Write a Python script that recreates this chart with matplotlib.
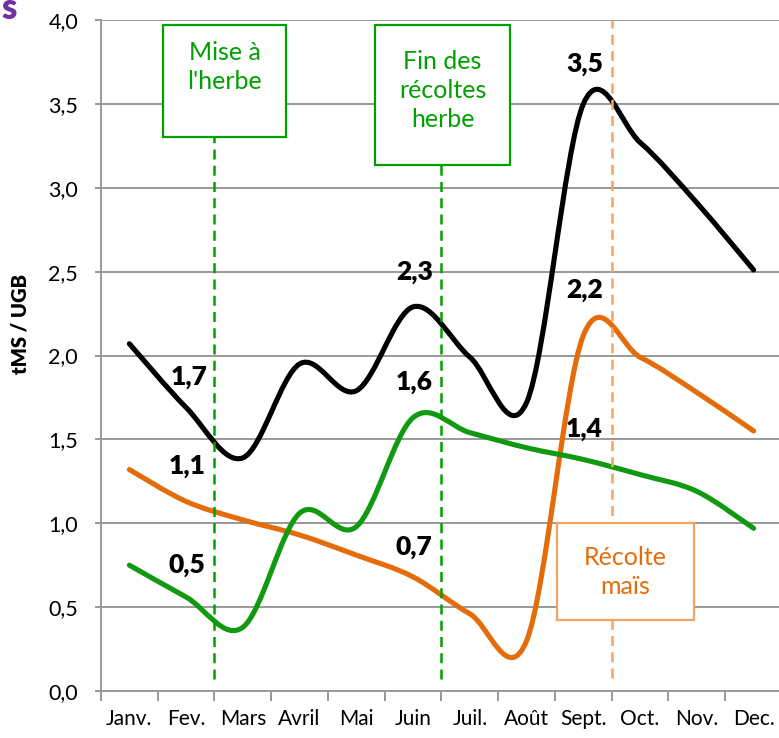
import matplotlib
matplotlib.use("Agg")
import matplotlib.pyplot as plt
from matplotlib.path import Path
from matplotlib.patches import PathPatch, Rectangle

plt.rcParams['font.family'] = ['Lato', 'DejaVu Sans']

mois = ['Janv.', 'Fev.', 'Mars', 'Avril', 'Mai', 'Juin', 'Juil.', 'Août',
        'Sept.', 'Oct.', 'Nov.', 'Dec.']
total = [2.07, 1.69, 1.39, 1.95, 1.79, 2.29, 1.99, 1.72, 3.50, 3.27, 2.91, 2.51]
herbe = [0.75, 0.56, 0.38, 1.06, 0.98, 1.63, 1.54, 1.45, 1.38, 1.29, 1.19, 0.97]
mais = [1.32, 1.13, 1.02, 0.93, 0.81, 0.68, 0.46, 0.30, 2.12, 1.99, 1.78, 1.55]
y_ticks = [0.0, 0.5, 1.0, 1.5, 2.0, 2.5, 3.0, 3.5, 4.0]
etiquettes = ['1,7', '1,1', '0,5', '2,3', '1,6', '0,7', '3,5', '2,2', '1,4']

noir = '#000000'
vert = '#119911'
orange = '#E46C0A'
orange_clair = '#F4A460'


def courbe_lisse(xs, ys):
    # bezier a la maniere d'Excel (lissage)
    n = len(xs)
    verts = [(xs[0], ys[0])]
    codes = [Path.MOVETO]
    for i in range(n - 1):
        a = i - 1 if i > 0 else i
        d = i + 2 if i + 2 < n else i + 1
        c1 = (xs[i] + (xs[i + 1] - xs[a]) / 6, ys[i] + (ys[i + 1] - ys[a]) / 6)
        c2 = (xs[i + 1] - (xs[d] - xs[i]) / 6, ys[i + 1] - (ys[d] - ys[i]) / 6)
        verts += [c1, c2, (xs[i + 1], ys[i + 1])]
        codes += [Path.CURVE4] * 3
    return Path(verts, codes)


fig = plt.figure(figsize=(7.79, 7.38), dpi=100)
ax = fig.add_axes([101 / 779, 1 - 691 / 738, 681 / 779, 671 / 738])

x = list(range(len(mois)))
ax.set_xlim(-0.5, 11.5)
ax.set_ylim(0, 4)

for serie, col in [(mais, orange), (herbe, vert), (total, noir)]:
    ax.add_patch(PathPatch(courbe_lisse(x, serie), fill=False, edgecolor=col,
                           lw=3.7, capstyle='round', joinstyle='round', zorder=4))

# axes
ax.set_yticks(y_ticks)
ax.set_yticklabels([f'{v:.1f}'.replace('.', ',') for v in y_ticks])
ax.yaxis.grid(True, color='#999999', lw=1.4)
ax.set_axisbelow(True)
ax.set_xticks(x)
ax.set_xticklabels(mois)
ax.set_xticks([i - 0.5 for i in range(13)], minor=True)
ax.tick_params(axis='x', which='major', length=0, pad=13, labelsize=15)
ax.tick_params(axis='x', which='minor', length=7, width=1.4, color='#999999')
ax.tick_params(axis='y', length=4.5, width=1.4, color='#999999', pad=12, labelsize=15.5)
for s in ['top', 'right']:
    ax.spines[s].set_visible(False)
for s in ['left', 'bottom']:
    ax.spines[s].set_color('#999999')
    ax.spines[s].set_linewidth(1.4)
fig.text(20 / 779, 1 - 324 / 738, 'tMS / UGB', fontsize=14.5, fontweight='heavy',
         rotation=90, ha='center', va='center')

# lignes verticales
ax.plot([1.5, 1.5], [0.07, 3.30], color='#00A000', lw=1.8, ls=(0, (4, 2.5)), zorder=6)
ax.plot([5.5, 5.5], [0.07, 3.14], color='#00A000', lw=1.8, ls=(0, (4, 2.5)), zorder=6)
ax.plot([8.5, 8.5], [0.08, 4.0], color=orange_clair, lw=1.8, ls=(0, (4, 2.5)), zorder=6)

# encadres
ax.add_patch(Rectangle((0.594, 3.30), 2.17, 0.67, facecolor='white', edgecolor='#00A000',
                       lw=1.6, zorder=7, clip_on=False))
ax.text(1.68, 3.72, "Mise à\nl'herbe", color='#00A000', ha='center', va='center',
        fontsize=18, linespacing=1.3, zorder=8)
ax.add_patch(Rectangle((4.335, 3.136), 2.365, 0.834, facecolor='white', edgecolor='#00A000',
                       lw=1.6, zorder=7, clip_on=False))
ax.text(5.52, 3.58, 'Fin des\nrécoltes\nherbe', color='#00A000', ha='center', va='center',
        fontsize=18, linespacing=1.3, zorder=8)
ax.add_patch(Rectangle((7.53, 0.423), 2.42, 0.577, facecolor='white', edgecolor=orange_clair,
                       lw=1.6, zorder=7, clip_on=False))
ax.text(8.74, 0.71, 'Récolte\nmaïs', color=orange, ha='center', va='center',
        fontsize=18, linespacing=1.3, zorder=8)

# valeurs
pos = [(1.05, 1.87), (1.02, 1.34), (1.02, 0.75), (5.02, 2.50), (5.02, 1.84),
       (5.02, 0.86), (8.02, 3.74), (8.02, 2.39), (8.02, 1.56)]
for (px, py), t in zip(pos, etiquettes):
    ax.text(px, py, t, ha='center', va='center', fontsize=19, fontweight='heavy',
            color='black', zorder=9)

fig.text(1 / 779, 1 - 19 / 738, 's', color='#7030A0', fontsize=25, fontweight='heavy',
         ha='left', va='baseline')

fig.savefig('out.png', dpi=100)
